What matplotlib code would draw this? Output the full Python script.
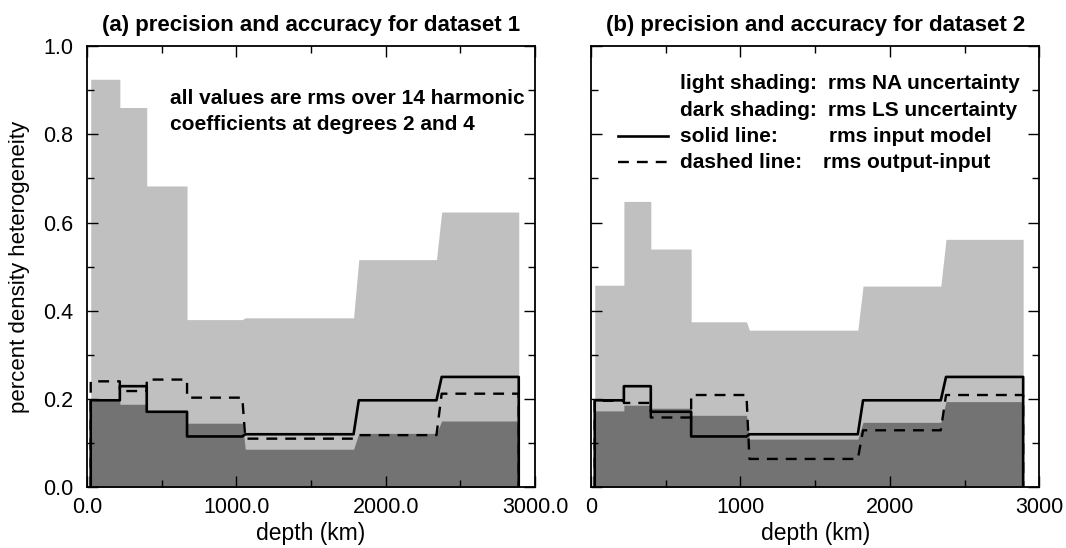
import matplotlib
matplotlib.use("Agg")
import matplotlib.pyplot as plt
from matplotlib.ticker import MultipleLocator, FixedLocator, FixedFormatter

plt.rcParams['font.family'] = ['Liberation Sans', 'DejaVu Sans']

# layer depth limits (km)
layer_top = [25, 220, 400, 670, 1060, 1820, 2375]
layer_bot = [220, 400, 670, 1040, 1785, 2340, 2891]

# rms input model (same for both datasets)
input_model = [0.197, 0.229, 0.171, 0.115, 0.120, 0.197, 0.250]

# dataset 1
na_unc_1 = [0.925, 0.861, 0.683, 0.380, 0.384, 0.516, 0.624]
ls_unc_1 = [0.196, 0.188, 0.171, 0.145, 0.086, 0.122, 0.150]
out_in_1 = [0.240, 0.218, 0.244, 0.203, 0.110, 0.118, 0.212]

# dataset 2
na_unc_2 = [0.458, 0.648, 0.540, 0.375, 0.356, 0.456, 0.562]
ls_unc_2 = [0.173, 0.186, 0.179, 0.163, 0.109, 0.147, 0.194]
out_in_2 = [0.196, 0.191, 0.158, 0.209, 0.064, 0.129, 0.209]

xticks = [0, 1000, 2000, 3000]
xlabels_1 = ["0.0", "1000.0", "2000.0", "3000.0"]
xlabels_2 = ["0", "1000", "2000", "3000"]
yticks = [0.0, 0.2, 0.4, 0.6, 0.8, 1.0]
ylabels = ["0.0", "0.2", "0.4", "0.6", "0.8", "1.0"]

LIGHT = "#c0c0c0"
DARK = "#737373"
FS = 15.5
DASH = (0, (4.6, 3.4))


def steps(vals):
    xs, ys = [], []
    for t, b, v in zip(layer_top, layer_bot, vals):
        xs += [t, b]
        ys += [v, v]
    return xs, ys


def closed(vals):
    xs, ys = steps(vals)
    return [xs[0]] + xs + [xs[-1]], [0] + ys + [0]


def panel(ax, na, ls, diff, xlabels, title, show_y=True):
    x, y = steps(na)
    ax.fill_between(x, 0, y, color=LIGHT, lw=0)
    x, y = steps(ls)
    ax.fill_between(x, 0, y, color=DARK, lw=0)
    x, y = closed(diff)
    ax.plot(x, y, color="black", lw=1.7, ls=DASH)
    x, y = closed(input_model)
    ax.plot(x, y, color="black", lw=1.9)

    ax.set_xlim(0, 3000)
    ax.set_ylim(0, 1.0)
    ax.xaxis.set_major_locator(FixedLocator(xticks))
    ax.xaxis.set_major_formatter(FixedFormatter(xlabels))
    ax.xaxis.set_minor_locator(MultipleLocator(500))
    ax.yaxis.set_major_locator(FixedLocator(yticks))
    ax.yaxis.set_minor_locator(MultipleLocator(0.1))
    ax.tick_params(which="both", direction="in", top=True, right=True,
                   labelsize=FS, width=1)
    ax.tick_params(which="major", length=8)
    ax.tick_params(which="minor", length=5)
    ax.tick_params(axis="x", pad=7)
    ax.tick_params(axis="y", pad=10)
    if show_y:
        ax.yaxis.set_major_formatter(FixedFormatter(ylabels))
    else:
        ax.set_yticklabels([])
    for s in ax.spines.values():
        s.set_linewidth(1.3)
    ax.set_xlabel("depth (km)", fontsize=16.5, labelpad=3)
    ax.set_title(title, fontsize=16, fontweight="bold", pad=11)


fig = plt.figure(figsize=(10.66, 5.48), dpi=100)
ax1 = fig.add_axes([0.0816, 0.111, 0.4203, 0.8047])
ax2 = fig.add_axes([0.5544, 0.111, 0.4207, 0.8047])

panel(ax1, na_unc_1, ls_unc_1, out_in_1, xlabels_1,
      "(a) precision and accuracy for dataset 1")
panel(ax2, na_unc_2, ls_unc_2, out_in_2, xlabels_2,
      "(b) precision and accuracy for dataset 2", show_y=False)

ax1.set_ylabel("percent density heterogeneity", fontsize=16, labelpad=9)
ax1.text(555, 0.882, "all values are rms over 14 harmonic", fontsize=15,
         fontweight="bold", va="center")
ax1.text(555, 0.823, "coefficients at degrees 2 and 4", fontsize=15,
         fontweight="bold", va="center")

# legend block in panel (b)
rows_y = [0.916, 0.855, 0.796, 0.737]
rows_a = ["light shading:", "dark shading:", "solid line:", "dashed line:"]
rows_b = ["rms NA uncertainty", "rms LS uncertainty", "rms input model", "rms output-input"]
rows_bx = [1584, 1584, 1594, 1555]
for yy, ta, tb, xb in zip(rows_y, rows_a, rows_b, rows_bx):
    ax2.text(595, yy, ta, fontsize=15, fontweight="bold", va="center")
    ax2.text(xb, yy, tb, fontsize=15, fontweight="bold", va="center")
ax2.plot([180, 515], [rows_y[2]] * 2, color="black", lw=1.9)
ax2.plot([180, 515], [rows_y[3]] * 2, color="black", lw=1.7, ls=DASH)

fig.savefig("out.png", dpi=100)
